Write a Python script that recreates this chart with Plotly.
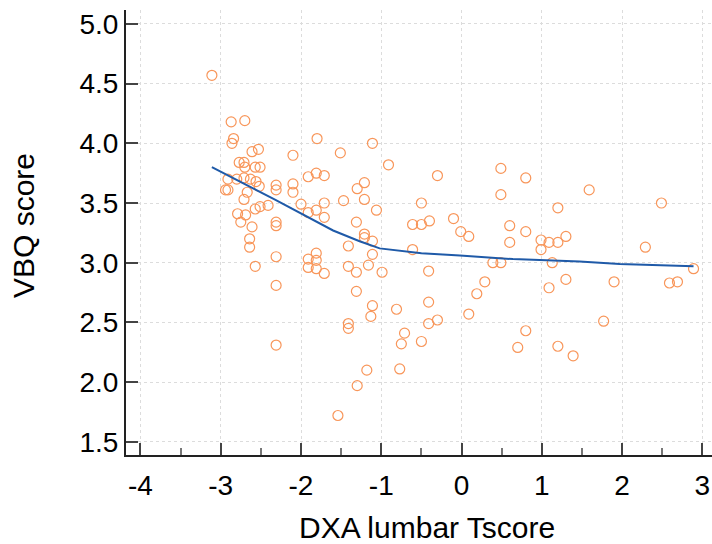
import plotly.graph_objects as go

# Scatter data: DXA lumbar T-score vs VBQ score
tscore = [-3.11, -2.87, -2.70, -2.84, -2.86, -1.80, -1.11, -2.61, -2.53, -2.10,
          -1.51, -0.91, -2.77, -2.71, -2.70, -2.57, -2.51, -2.91, -2.80, -2.71,
          -2.63, -2.56, -2.52, -2.94, -2.91, -2.67, -2.71, -2.31, -2.31, -2.10,
          -2.10, -1.91, -1.81, -1.71, -2.00, -1.91, -1.81, -1.71, -1.71, -1.47,
          -1.30, -1.21, -1.21, -1.06, -1.31, -2.79, -2.69, -2.75, -2.61, -2.57,
          -2.51, -2.41, -2.31, -2.31, -2.64, -2.64, -2.31, -2.57, -2.31, -2.31,
          -1.91, -1.81, -1.81, -1.91, -1.81, -1.71, -1.41, -1.41, -1.31, -1.16,
          -0.99, -1.21, -1.21, -1.11, -1.11, -1.31, -1.11, -1.13, -1.41, -1.41,
          -1.18, -0.81, -0.41, -0.41, -0.30, 0.09, -0.71, -0.75, -0.50, -0.77,
          -1.30, -1.54, -0.30, 0.49, 0.80, 0.49, -0.50, -0.61, -0.50, -0.40,
          -0.10, -0.01, 0.09, 0.60, 0.60, 0.80, 1.20, 0.99, 1.09, 1.20,
          1.30, 0.99, -0.61, 0.39, 0.49, 1.13, -0.41, 0.29, 0.19, 1.09,
          1.30, 1.59, 2.49, 2.29, 2.89, 1.90, 2.59, 2.69, 0.80, 0.70,
          1.20, 1.39, 1.77]
vbq = [4.57, 4.18, 4.19, 4.04, 4.00, 4.04, 4.00, 3.93, 3.95, 3.90,
       3.92, 3.82, 3.84, 3.84, 3.80, 3.80, 3.80, 3.70, 3.70, 3.71,
       3.70, 3.68, 3.64, 3.61, 3.61, 3.59, 3.53, 3.65, 3.61, 3.66,
       3.59, 3.72, 3.75, 3.73, 3.49, 3.42, 3.44, 3.50, 3.38, 3.52,
       3.62, 3.67, 3.53, 3.44, 3.34, 3.41, 3.40, 3.34, 3.30, 3.45,
       3.47, 3.48, 3.34, 3.31, 3.20, 3.13, 3.05, 2.97, 2.81, 2.31,
       3.03, 3.08, 3.02, 2.96, 2.95, 2.91, 3.14, 2.97, 2.92, 2.98,
       2.92, 3.24, 3.21, 3.18, 3.07, 2.76, 2.64, 2.55, 2.49, 2.45,
       2.10, 2.61, 2.67, 2.49, 2.52, 2.57, 2.41, 2.32, 2.34, 2.11,
       1.97, 1.72, 3.73, 3.79, 3.71, 3.57, 3.50, 3.32, 3.32, 3.35,
       3.37, 3.26, 3.22, 3.31, 3.17, 3.26, 3.46, 3.19, 3.17, 3.17,
       3.22, 3.11, 3.11, 3.00, 3.00, 3.00, 2.93, 2.84, 2.74, 2.79,
       2.86, 3.61, 3.50, 3.13, 2.95, 2.84, 2.83, 2.84, 2.43, 2.29,
       2.30, 2.22, 2.51]

# Smoothed (LOWESS) curve
fit_x = [-3.11, -2.33, -1.60, -1.27, -1.02, -0.77, -0.50, -0.02, 0.64, 1.47, 1.97, 2.89]
fit_y = [3.80, 3.53, 3.27, 3.18, 3.12, 3.10, 3.08, 3.06, 3.03, 3.01, 2.99, 2.97]

x_ticks = [-4, -3, -2, -1, 0, 1, 2, 3]
y_ticks = [1.5, 2.0, 2.5, 3.0, 3.5, 4.0, 4.5, 5.0]
y_labels = ["1.5", "2.0", "2.5", "3.0", "3.5", "4.0", "4.5", "5.0"]

FONT = "Arial, Liberation Sans, sans-serif"

fig = go.Figure()
fig.add_trace(go.Scatter(
    x=tscore, y=vbq, mode="markers",
    marker=dict(symbol="circle-open", size=10, color="rgb(248,150,90)",
                line=dict(width=1.2, color="rgb(248,150,90)")),
    showlegend=False))
fig.add_trace(go.Scatter(
    x=fit_x, y=fit_y, mode="lines", line=dict(color="#1f5aa8", width=2),
    showlegend=False))

axis_common = dict(
    showline=True, linecolor="#222222", linewidth=2,
    ticks="inside", ticklen=12, tickwidth=2, tickcolor="#444444",
    showgrid=True, gridcolor="#dcdcdc", griddash="3px,3px", gridwidth=1,
    zeroline=False, tickfont=dict(family=FONT, size=28, color="black"),
)

fig.update_xaxes(**axis_common, range=[-4.18, 3.12], tickmode="array", tickvals=x_ticks,
                 ticktext=[str(v) for v in x_ticks], ticklabelstandoff=4,
                 minor=dict(ticks="inside", ticklen=7, tickwidth=1.5, tickcolor="#777777",
                            dtick=0.5, tick0=0, showgrid=False))
fig.update_yaxes(**axis_common, range=[1.389, 5.117], tickmode="array", tickvals=y_ticks,
                 ticktext=y_labels)

fig.add_annotation(text="DXA lumbar Tscore", xref="paper", yref="paper",
                   x=(426.5 - 126) / 586, y=-(527.5 - 455) / 445, xanchor="center", yanchor="middle",
                   showarrow=False, font=dict(family=FONT, size=30, color="black"))
fig.add_annotation(text="VBQ score", xref="paper", yref="paper",
                   x=-(126 - 23) / 586, y=(455 - 226) / 445, xanchor="center", yanchor="middle",
                   textangle=-90, showarrow=False, font=dict(family=FONT, size=30, color="black"))

fig.update_layout(width=712, height=544, margin=dict(l=126, r=0, t=10, b=89),
                  plot_bgcolor="white", paper_bgcolor="white")

fig.write_html("out.html", config={"displayModeBar": False})
